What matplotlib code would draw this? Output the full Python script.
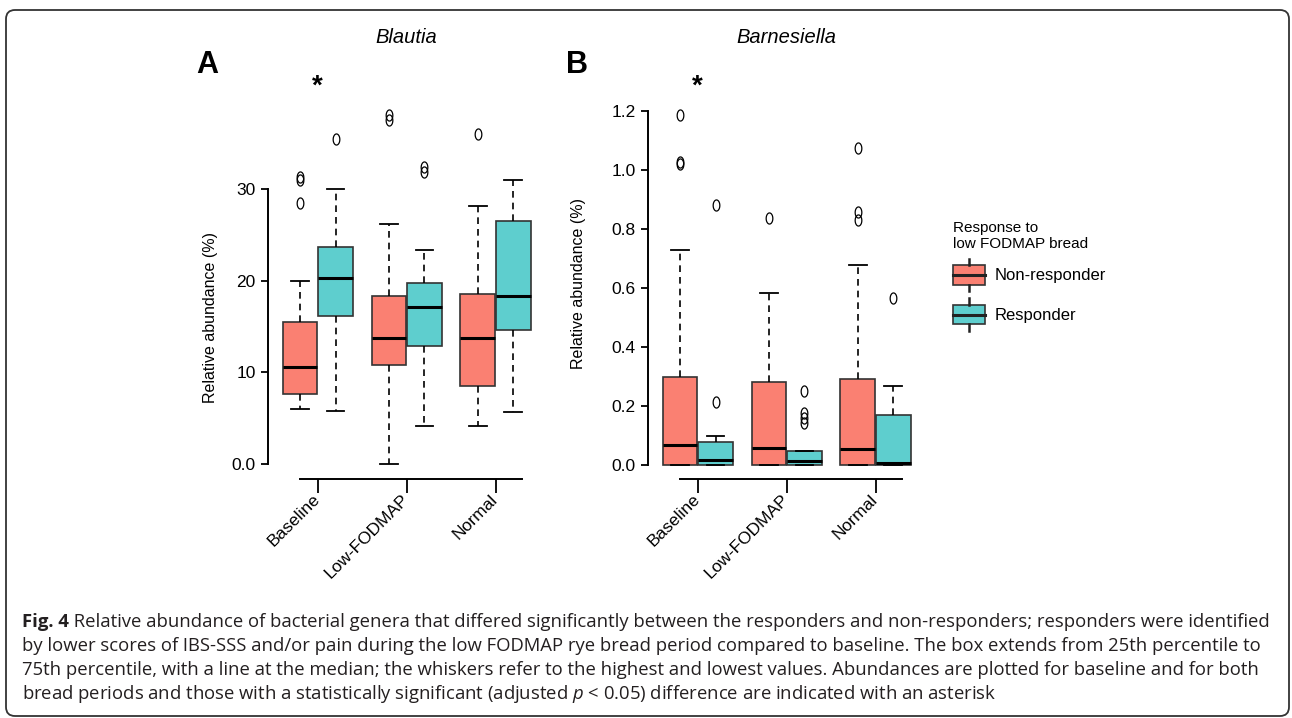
import matplotlib

matplotlib.use("Agg")
import matplotlib.pyplot as plt
import matplotlib.transforms as mtransforms
import numpy as np
from matplotlib.legend_handler import HandlerBase
from matplotlib.lines import Line2D
from matplotlib.patches import FancyBboxPatch, Patch, Rectangle
from matplotlib.path import Path


PERIODS = ["Baseline", "Low-FODMAP", "Normal"]
GROUPS = ["Non-responder", "Responder"]
COLORS = ["#FA8072", "#5ECECE"]

# five-number summaries per period: whisker low, q1, median, q3, whisker high
BLAUTIA_NR = [
    [6.0, 7.6, 10.6, 15.5, 20.0],
    [0.0, 10.8, 13.7, 18.3, 26.2],
    [4.1, 8.5, 13.7, 18.5, 28.1],
]
BLAUTIA_NR_OUT = [[31.3, 31.0, 28.5], [38.1, 37.5], [36.0]]
BLAUTIA_R = [
    [5.8, 16.2, 20.3, 23.7, 30.0],
    [4.2, 12.9, 17.1, 19.7, 23.4],
    [5.7, 14.6, 18.3, 26.5, 31.0],
]
BLAUTIA_R_OUT = [[35.5], [32.4, 31.9], []]

BARNESIELLA_NR = [
    [0.0, 0.0, 0.067, 0.299, 0.728],
    [0.0, 0.0, 0.058, 0.282, 0.581],
    [0.0, 0.0, 0.055, 0.290, 0.677],
]
BARNESIELLA_NR_OUT = [[1.185, 1.027, 1.019], [0.836], [1.072, 0.858, 0.830]]
BARNESIELLA_R = [
    [0.0, 0.0, 0.017, 0.079, 0.097],
    [0.0, 0.0, 0.012, 0.046, 0.048],
    [0.0, 0.0, 0.008, 0.169, 0.269],
]
BARNESIELLA_R_OUT = [[0.880, 0.214], [0.250, 0.175, 0.160, 0.141], [0.565]]

BLAUTIA_TICKS = [0, 10, 20, 30]
BLAUTIA_TICK_LABELS = ["0.0", "10", "20", "30"]
BARNESIELLA_TICKS = [0, 0.2, 0.4, 0.6, 0.8, 1.0, 1.2]
BARNESIELLA_TICK_LABELS = ["0.0", "0.2", "0.4", "0.6", "0.8", "1.0", "1.2"]

CAPTION_HEAD = "Fig. 4"
CAPTION = [
    " Relative abundance of bacterial genera that differed significantly between the responders and non-responders; responders were identified",
    "by lower scores of IBS-SSS and/or pain during the low FODMAP rye bread period compared to baseline. The box extends from 25th percentile to",
    "75th percentile, with a line at the median; the whiskers refer to the highest and lowest values. Abundances are plotted for baseline and for both",
    r"bread periods and those with a statistically significant (adjusted $p$ < 0.05) difference are indicated with an asterisk",
]

plt.rcParams["font.family"] = "Liberation Sans"
plt.rcParams["mathtext.fontset"] = "custom"
plt.rcParams["mathtext.rm"] = "Open Sans"
plt.rcParams["mathtext.it"] = "Open Sans:italic"
plt.rcParams["mathtext.bf"] = "Open Sans:bold"

W, H = 1292, 718

theta = np.linspace(0, 2 * np.pi, 41)
ELLIPSE = Path(np.column_stack([0.6 * np.cos(theta), np.sin(theta)]), closed=True)


def make_stats(summaries, outliers):
    stats = []
    for (lo, q1, med, q3, hi), fl in zip(summaries, outliers):
        stats.append(dict(whislo=lo, q1=q1, med=med, q3=q3, whishi=hi, fliers=fl))
    return stats


def draw_panel(ax, series, ylim, ticks, tick_labels, title, letter, ylab_x, ylab_y):
    xs = np.arange(1, len(PERIODS) + 1)
    for offset, (summ, outl), color in zip([-0.2, 0.2], series, COLORS):
        ax.bxp(
            make_stats(summ, outl),
            positions=xs + offset,
            widths=0.39,
            capwidths=0.2,
            patch_artist=True,
            boxprops=dict(facecolor=color, edgecolor="#333333", linewidth=1.2),
            medianprops=dict(color="black", linewidth=2.2),
            whiskerprops=dict(color="black", linewidth=1.2, linestyle=(0, (4, 3))),
            capprops=dict(color="black", linewidth=1.3),
            flierprops=dict(marker=ELLIPSE, markerfacecolor="none",
                            markeredgecolor="black", markersize=8,
                            markeredgewidth=0.9),
        )

    ax.set_xlim(0.44, 3.5)
    ax.set_ylim(*ylim)
    for side in ["top", "right"]:
        ax.spines[side].set_visible(False)
    ax.spines["left"].set_bounds(ticks[0], ticks[-1])
    ax.spines["bottom"].set_bounds(0.8, 3.3)
    ax.spines["left"].set_linewidth(1.4)
    ax.spines["bottom"].set_linewidth(1.4)

    ax.set_yticks(ticks)
    ax.set_yticklabels(tick_labels, fontsize=12.5)
    ax.tick_params(axis="y", length=5, width=1.3, pad=4)
    ax.set_xticks(xs)
    ax.set_xticklabels(PERIODS, fontsize=12.5, rotation=45, ha="right",
                       va="center", rotation_mode="anchor")
    ax.tick_params(axis="x", length=10, width=1.3, pad=3)

    ax.text(ylab_x, ylab_y, "Relative abundance (%)", rotation=90, fontsize=11.5,
            ha="center", va="center", transform=ax.transAxes)

    top = mtransforms.blended_transform_factory(ax.transData, ax.transAxes)
    ax.text(2, 1.150, title, style="italic", fontsize=14.5, ha="center",
            va="baseline", transform=top)
    ax.text(1, 1.018, "*", fontsize=20, fontweight="bold", ha="center",
            va="baseline", transform=top)
    ax.text(letter[1], 1.071, letter[0], fontsize=22, fontweight="bold",
            ha="left", va="baseline", transform=ax.transAxes)


class BoxHandler(HandlerBase):
    def create_artists(self, legend, orig_handle, xdescent, ydescent, width,
                       height, fontsize, trans):
        x0, y0 = -xdescent, -ydescent
        cx = x0 + width / 2
        box = Rectangle((x0, y0 + 0.2 * height), width, 0.6 * height,
                        facecolor=orig_handle.get_facecolor(),
                        edgecolor="#333333", linewidth=1.2, transform=trans)
        med = Line2D([x0, x0 + width], [y0 + height / 2] * 2, color="#222222",
                     linewidth=2.2, transform=trans)
        up = Line2D([cx, cx], [y0 + 0.8 * height, y0 + height], color="#222222",
                    linewidth=1.8, transform=trans)
        down = Line2D([cx, cx], [y0, y0 + 0.2 * height], color="#222222",
                      linewidth=1.8, transform=trans)
        return [box, med, up, down]


fig = plt.figure(figsize=(W / 100, H / 100), dpi=100)

ax_w = 272 / W
ax_h = 379 / H
ax_b = 1 - 479 / H
ax_a = fig.add_axes([268 / W, ax_b, ax_w, ax_h])
ax_bn = fig.add_axes([648 / W, ax_b, ax_w, ax_h])

draw_panel(ax_a, [(BLAUTIA_NR, BLAUTIA_NR_OUT), (BLAUTIA_R, BLAUTIA_R_OUT)],
           (-1.636, 39.71), BLAUTIA_TICKS, BLAUTIA_TICK_LABELS, "Blautia",
           ("A", -0.265), -58 / 272, 0.427)
draw_panel(ax_bn, [(BARNESIELLA_NR, BARNESIELLA_NR_OUT),
                   (BARNESIELLA_R, BARNESIELLA_R_OUT)],
           (-0.0474, 1.2362), BARNESIELLA_TICKS, BARNESIELLA_TICK_LABELS,
           "Barnesiella", ("B", -0.301), -69 / 272, 0.517)

handles = [Patch(facecolor=c) for c in COLORS]
fig.legend(handles, GROUPS, handler_map={Patch: BoxHandler()},
           loc="upper left", bbox_to_anchor=(953 / W, 1 - 221 / H),
           frameon=False, borderpad=0, borderaxespad=0,
           title="Response to\nlow FODMAP bread", alignment="left",
           title_fontproperties={"size": 11}, prop={"size": 12},
           handlelength=1.9, handleheight=2.6, handletextpad=0.6,
           labelspacing=0.45)

frame = FancyBboxPatch((0.06, 0.02), 12.83, 7.06,
                       boxstyle="round,pad=0,rounding_size=0.09",
                       transform=fig.dpi_scale_trans, facecolor="none",
                       edgecolor="#333333", linewidth=1.3)
fig.patches.append(frame)

# caption: bold head, then the rest of line 1 placed right after it
head = fig.text(22 / W, 1 - 627 / H, CAPTION_HEAD, family="Open Sans",
                fontweight="bold", fontsize=11, color="#231f20",
                ha="left", va="baseline")
caption_texts = []
for i, line in enumerate(CAPTION):
    t = fig.text(22 / W, 1 - (627 + 24 * i) / H, line, family="Open Sans",
                 fontsize=11, color="#231f20", ha="left", va="baseline")
    caption_texts.append(t)

# scale the caption so the first line spans the same width as the original
renderer = fig.canvas.get_renderer()
full = (head.get_window_extent(renderer).width
        + caption_texts[0].get_window_extent(renderer).width)
scale = (1267 - 22) / full
head.set_fontsize(11 * scale)
for t in caption_texts:
    t.set_fontsize(11 * scale)
head_w = head.get_window_extent(renderer).width
caption_texts[0].set_x((22 + head_w) / W)

fig.savefig("out.png", dpi=100)
plt.close(fig)
